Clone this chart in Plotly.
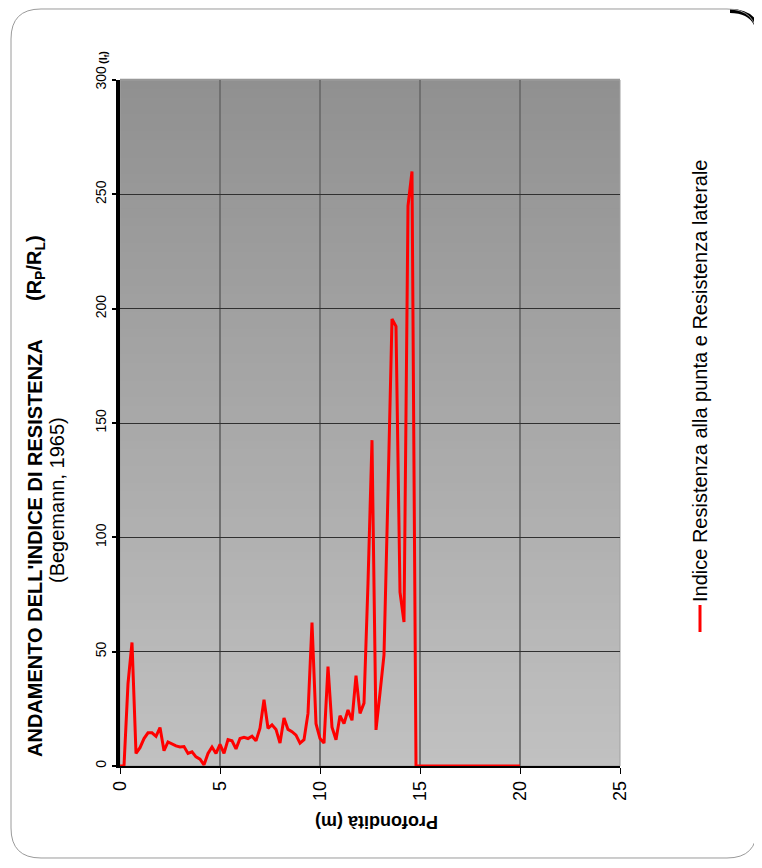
import plotly.graph_objects as go

# ---- data ----
depth_m = [0.0, 0.2, 0.4, 0.6, 0.8, 1.0, 1.2, 1.4, 1.6, 1.8, 2.0, 2.2, 2.4, 2.6, 2.8, 3.0,
           3.2, 3.4, 3.6, 3.8, 4.0, 4.2, 4.4, 4.6, 4.8, 5.0, 5.2, 5.4, 5.6, 5.8, 6.0, 6.2,
           6.4, 6.6, 6.8, 7.0, 7.2, 7.4, 7.6, 7.8, 8.0, 8.2, 8.4, 8.6, 8.8, 9.0, 9.2, 9.4,
           9.6, 9.8, 10.0, 10.2, 10.4, 10.6, 10.8, 11.0, 11.2, 11.4, 11.6, 11.8, 12.0, 12.2,
           12.4, 12.6, 12.8, 13.0, 13.2, 13.4, 13.6, 13.8, 14.0, 14.2, 14.4, 14.6, 14.8, 20.0]
index_if = [0, 0, 36, 54, 5.5, 8, 12, 14.5, 14.5, 13, 16.8, 6.7, 10.5, 9.5, 8.8, 8.3,
            8.5, 5.5, 6.2, 4, 3, 0.5, 5.5, 8.3, 5.5, 9.5, 5.5, 11.5, 11, 7.5, 12, 12.5,
            12, 13, 11, 16.5, 29, 16.5, 18, 16, 10, 21, 16, 15, 13.5, 10, 11.5, 23,
            62.7, 18.5, 12, 10, 43.5, 17, 11.5, 22, 18.5, 24.5, 20, 39.5, 23, 27.5,
            80, 142.5, 15.8, 32, 48.6, 120, 195.5, 192.3, 76, 63, 245, 260, 0, 0]

x_ticks = [0, 5, 10, 15, 20, 25]
y_ticks = [0, 50, 100, 150, 200, 250, 300]

series_name = "Indice Resistenza alla punta e Resistenza laterale"
title_main = "<b>ANDAMENTO DELL'INDICE DI RESISTENZA</b>"
title_ratio = "<b>(R<sub>P</sub>/R<sub>L</sub>)</b>"
subtitle = "(Begemann, 1965)"
x_title = "<b>Profondità (m)</b>"
y_unit = "<b>(I<sub>f</sub>)</b>"

# ---- layout geometry (screen pixels; page body adds an 8px offset) ----
OFF = 8
W, H = 762 - OFF, 868 - OFF
L, R, T, B = 120, 620, 80, 766          # plot area on screen
PW, PH = R - L, B - T


def px(xp):
    return (xp - L) / PW


def py(yp):
    return (B - yp) / PH


FONT = "Liberation Sans, Arial, sans-serif"

fig = go.Figure()
fig.add_trace(go.Scatter(x=depth_m, y=index_if, mode="lines", name=series_name,
                         line=dict(color="#ff0000", width=3), showlegend=False))


def conv_path(p):
    toks = p.replace(",", " , ").split()
    res = []
    i = 0
    while i < len(toks):
        t = toks[i]
        if t in ("M", "L", "Q", "Z"):
            res.append(t)
            i += 1
        else:
            xv = float(toks[i]); yv = float(toks[i + 2])
            res.append(f"{px(xv):.5f},{py(yv):.5f}")
            i += 3
    return " ".join(res)


shapes = []
bx0, bx1, by0, by1, r = 11, 757, 9, 858, 30
path = (f"M {bx0+r},{by0} L {bx1-r},{by0} Q {bx1},{by0} {bx1},{by0+r} "
        f"L {bx1},{by1-r} Q {bx1},{by1} {bx1-r},{by1} L {bx0+r},{by1} "
        f"Q {bx0},{by1} {bx0},{by1-r} L {bx0},{by0+r} Q {bx0},{by0} {bx0+r},{by0} Z")
# corner shadow (drawn first so the border sits on top)
shapes.append(dict(type="path", xref="paper", yref="paper",
                   path=conv_path("M 730,11 Q 759,11 759,40"),
                   line=dict(color="#000000", width=4), layer="below"))
shapes.append(dict(type="path", xref="paper", yref="paper", path=conv_path(path),
                   line=dict(color="#9a9a9a", width=1), fillcolor="rgba(0,0,0,0)", layer="below"))

# gradient background bands
N = 80
c_top, c_bot = 144, 193
for i in range(N):
    f0, f1 = i / N, (i + 1) / N
    c = round(c_bot + (c_top - c_bot) * (i + 0.5) / N)
    shapes.append(dict(type="rect", xref="paper", yref="paper", x0=0, x1=1, y0=f0, y1=f1 + 0.002,
                       fillcolor=f"rgb({c},{c},{c})", line=dict(width=0), layer="below"))
shapes.append(dict(type="rect", xref="paper", yref="paper", x0=0, x1=1, y0=0, y1=1,
                   line=dict(color="#a0a0a0", width=1), fillcolor="rgba(0,0,0,0)", layer="below"))
# legend key line
shapes.append(dict(type="line", xref="paper", yref="paper", x0=px(700), x1=px(700),
                   y0=py(632), y1=py(605), line=dict(color="#ff0000", width=3)))


def ann(text, x, y, size, angle=-90):
    return dict(text=text, x=px(x), y=py(y), xref="paper", yref="paper", textangle=angle,
                showarrow=False, font=dict(size=size, color="black", family=FONT),
                xanchor="center", yanchor="middle")


annotations = [
    ann(title_main, 35, 548, 20),
    ann(title_ratio, 35, 268, 20),
    ann(subtitle, 57, 500, 20),
    ann(y_unit, 104, 58, 11),
    ann(x_title, 377, 822, 18, 180),
    ann(series_name, 700, 381, 20),
]

fig.update_layout(
    width=W, height=H,
    margin=dict(l=L - OFF, r=W - (R - OFF), t=T - OFF, b=H - (B - OFF), pad=0),
    paper_bgcolor="white", plot_bgcolor="rgba(0,0,0,0)",
    shapes=shapes, annotations=annotations, showlegend=False,
    font=dict(family=FONT, color="black"),
    xaxis=dict(range=[0, 25], tickvals=x_ticks, ticktext=[str(v) for v in x_ticks],
               tickangle=-90, tickfont=dict(size=18, family=FONT),
               showgrid=True, gridcolor="#707070", gridwidth=1.5,
               showline=True, linecolor="black", linewidth=1.5, zeroline=False,
               ticks="outside", ticklen=6, tickwidth=1, tickcolor="black"),
    yaxis=dict(range=[0, 300], tickvals=y_ticks, ticktext=[str(v) for v in y_ticks],
               tickangle=-90, tickfont=dict(size=14, family=FONT),
               showgrid=True, gridcolor="#303030", gridwidth=1,
               showline=True, linecolor="black", linewidth=4, zeroline=False,
               ticks="outside", ticklen=4, tickwidth=2, tickcolor="black"),
)

fig.write_html("out.html")
